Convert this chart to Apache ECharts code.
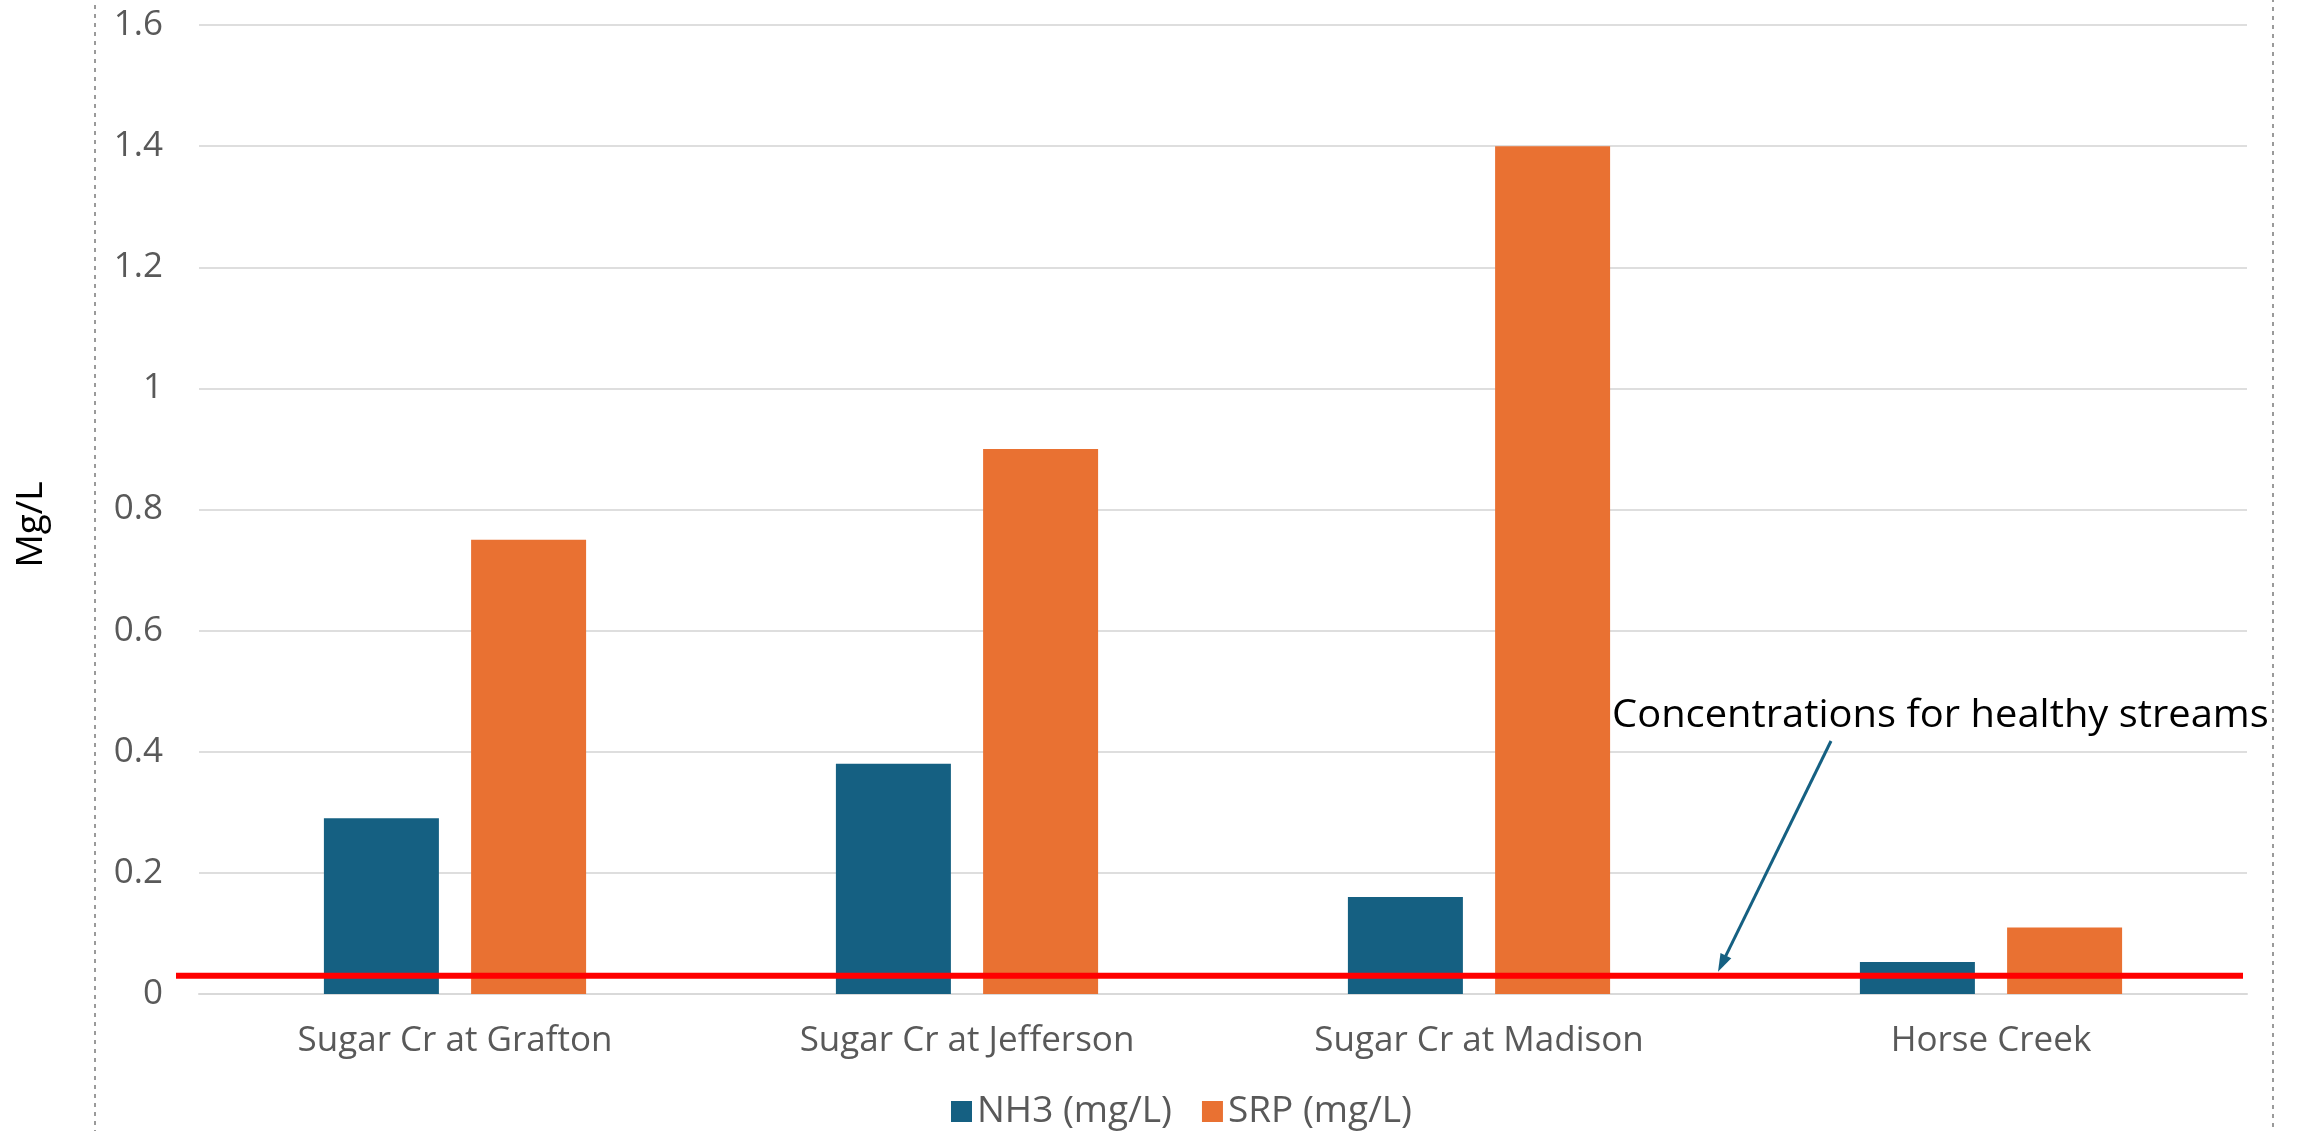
<!DOCTYPE html>
<html>
<head>
<meta charset="utf-8">
<title>NH3 and SRP concentrations</title>
<script src="https://cdn.jsdelivr.net/npm/echarts@6/dist/echarts.min.js"></script>
<style>
  html, body { margin: 0; padding: 0; background: #ffffff; }
  #chart { width: 2302px; height: 1131px; }
</style>
</head>
<body>
<div id="chart"></div>
<script>
// Sampling sites and measured concentrations (mg/L)
const sites = ['Sugar Cr at Grafton', 'Sugar Cr at Jefferson', 'Sugar Cr at Madison', 'Horse Creek'];
const nh3 = [0.29, 0.38, 0.16, 0.053];
const srp = [0.75, 0.90, 1.40, 0.11];
const seriesNames = ['NH3 (mg/L)', 'SRP (mg/L)'];

// Value axis range
const yMin = 0;
const yMax = 1.6;
const yStep = 0.2;

// Reference level for healthy streams and its callout
const healthyLevel = 0.03;
const noteText = 'Concentrations for healthy streams';

const W = 2302, H = 1131;
const GRID = { left: 199, right: 55, top: 25, bottom: 137 };
const FONT = '"Open Sans", "Liberation Sans", sans-serif';
const LABEL_GREY = '#595959';

const chart = echarts.init(document.getElementById('chart'), null, { renderer: 'canvas', width: W, height: H });

chart.setOption({
  backgroundColor: '#ffffff',
  animation: false,
  color: ['#156082', '#E97132'],
  grid: {
    left: GRID.left, right: GRID.right, top: GRID.top, bottom: GRID.bottom,
    containLabel: false, outerBoundsMode: 'none'
  },
  legend: {
    data: seriesNames,
    left: 951,
    top: 1093,
    padding: 0,
    icon: 'rect',
    itemWidth: 21,
    itemHeight: 21,
    itemGap: 30,
    textStyle: { fontFamily: FONT, fontSize: 37, color: LABEL_GREY }
  },
  xAxis: {
    type: 'category',
    data: sites,
    axisLine: { show: true, lineStyle: { color: '#d9d9d9', width: 2 } },
    axisTick: { show: false },
    axisLabel: { fontFamily: FONT, fontSize: 35, color: LABEL_GREY, margin: 30 }
  },
  yAxis: {
    type: 'value',
    min: yMin,
    max: yMax,
    interval: yStep,
    name: 'Mg/L',
    nameLocation: 'middle',
    nameRotate: 90,
    nameGap: 149,
    nameTextStyle: { fontFamily: FONT, fontSize: 37, color: '#000000', padding: [0, 30, 0, 0] },
    axisLine: { show: false },
    axisTick: { show: false },
    splitLine: { lineStyle: { color: '#dedede', width: 2 } },
    axisLabel: { fontFamily: FONT, fontSize: 35, color: LABEL_GREY, margin: 36 }
  },
  series: [
    { name: seriesNames[0], type: 'bar', data: nh3, barWidth: 115, barGap: '28%' },
    { name: seriesNames[1], type: 'bar', data: srp, barWidth: 115, barGap: '28%' }
  ]
});

// Healthy-stream reference line, callout text and arrow, placed from the value scale
const yRef = chart.convertToPixel({ yAxisIndex: 0 }, healthyLevel);
const lineX0 = GRID.left - 23;
const lineX1 = W - GRID.right - 4;

const tail = [1831, 741];
const tip = [1718, yRef - 4];
const dx = tip[0] - tail[0], dy = tip[1] - tail[1];
const len = Math.sqrt(dx * dx + dy * dy);
const ux = dx / len, uy = dy / len;
const nx = -uy, ny = ux;
const headLen = 18, headHalf = 6;
const base = [tip[0] - ux * headLen, tip[1] - uy * headLen];

chart.setOption({
  graphic: [
    {
      type: 'rect',
      silent: true,
      shape: { x: 95, y: -20, width: 2178, height: H + 40 },
      style: { fill: 'none', stroke: '#9a9a9a', lineWidth: 2, lineDash: [4, 5] },
      z: 1
    },
    {
      type: 'line',
      silent: true,
      shape: { x1: lineX0, y1: yRef, x2: lineX1, y2: yRef },
      style: { stroke: '#ff0000', lineWidth: 6 },
      z: 100
    },
    {
      type: 'line',
      silent: true,
      shape: { x1: tail[0], y1: tail[1], x2: base[0] + ux * 2, y2: base[1] + uy * 2 },
      style: { stroke: '#156082', lineWidth: 3 },
      z: 100
    },
    {
      type: 'polygon',
      silent: true,
      shape: {
        points: [
          tip,
          [base[0] + nx * headHalf, base[1] + ny * headHalf],
          [base[0] - nx * headHalf, base[1] - ny * headHalf]
        ]
      },
      style: { fill: '#156082' },
      z: 100
    },
    {
      type: 'text',
      silent: true,
      x: 1612,
      y: 716,
      scaleX: 1.05,
      style: {
        text: noteText,
        font: '38px ' + FONT,
        fill: '#000000',
        align: 'left',
        verticalAlign: 'middle'
      },
      z: 100
    }
  ]
});
</script>
</body>
</html>
